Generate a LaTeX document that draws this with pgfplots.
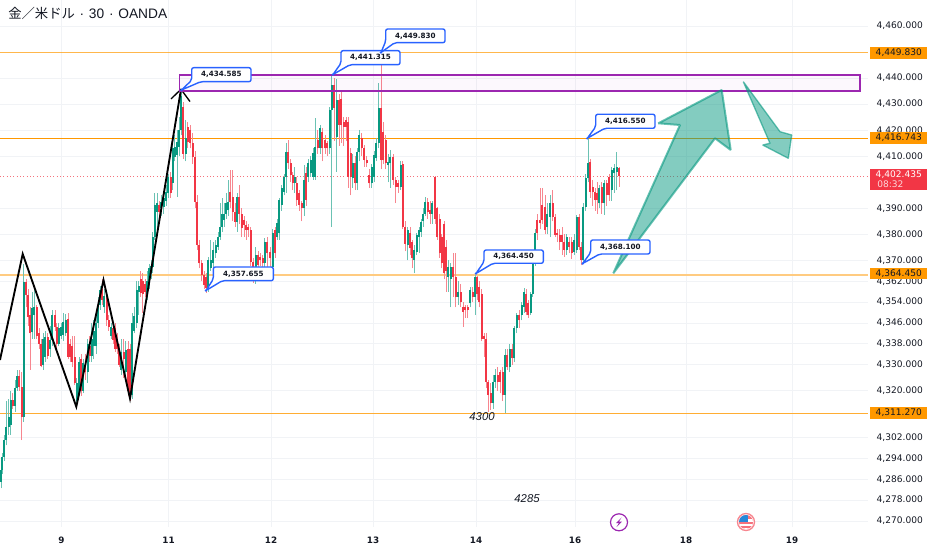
\documentclass[border=0pt]{standalone}
\usepackage{fontspec}
\setmainfont{DejaVu Sans}
\newfontfamily\cjk{Noto Sans CJK JP}
\newfontfamily\lib{Liberation Sans}
\usepackage{pgfplots}
\usepackage{pgfplotstable}
\pgfplotsset{compat=1.18}
\definecolor{up}{HTML}{089981}
\definecolor{dn}{HTML}{F23645}
\definecolor{org}{HTML}{FF9800}
\definecolor{pur}{HTML}{9C27B0}
\definecolor{blu}{HTML}{2962FF}
\definecolor{txt}{HTML}{131722}
\definecolor{gridc}{HTML}{F1F3F6}
\pgfplotstableread{
x o h l c
1.0 4285 4291 4282.5 4289.5
2.3 4289.5 4296 4288 4294.5
4.3 4294.5 4303 4293 4301
6.3 4301 4316 4299 4306
8.6 4306 4317 4303 4310
10.6 4307 4320 4303 4316.5
12.7 4316.5 4319 4313 4314
15 4314 4324 4312 4321
17 4321 4328 4320 4325.5
19.3 4325.5 4328 4320 4321.5
21.6 4321.5 4327 4301 4310
23.6 4310 4368.5 4308 4361.8
26 4361.8 4363 4352 4356.7
28 4356.7 4359 4345 4348.4
30 4349 4352 4328 4342
32.3 4342.5 4358 4340 4351.6
34.3 4349 4359 4340 4352
36.7 4352 4353 4340 4341
39 4342 4344 4336 4338
41 4338 4340 4329 4329.5
43.3 4330 4342 4328 4340
45.3 4333 4343 4331 4340.5
47.7 4340.5 4342 4332 4333.5
50 4336 4345 4333 4339.5
52.3 4339.5 4351 4337 4349
55 4349 4351 4343 4344.4
56.7 4344.4 4346 4336.5 4338
58.7 4338 4346 4337 4344
61.3 4341 4346 4340 4344.5
63.3 4341.5 4350 4339 4346.5
65.7 4342 4349.5 4341 4347
68 4347.5 4350 4332 4333
70.3 4338 4340 4331 4333
72.3 4337 4341 4329 4331
74.7 4333 4341 4322 4323
76.7 4316 4325 4314.5 4323
79 4319 4333 4318 4331
81 4332 4334 4318 4320
83.3 4320 4332 4319 4330.5
85.3 4330 4334 4324 4327
87.7 4327 4340 4323 4338
89.7 4337 4341 4331 4333.5
91.7 4333.5 4346 4331 4340
93.7 4337 4347 4332 4343
96 4337 4350 4334 4346
98.3 4346 4356 4344 4353
100 4353 4360 4351 4358.7
102.3 4359 4363 4353 4355
104.3 4352 4359 4350 4356.5
106.7 4356 4358 4345 4347
108.7 4347 4349 4343 4344.5
111 4341 4346 4340 4344.5
113 4344 4346 4338 4339.5
115 4344 4346 4335 4336
117.3 4340 4342 4334 4336
119.3 4335.5 4338 4329 4330
121.3 4328 4340 4326 4335
123.7 4335 4340 4325 4332
125.7 4327 4339 4326 4335.5
128 4336 4339 4318 4320
130 4336 4338 4316 4318
132.3 4318.5 4350 4317 4346
134.3 4343 4352 4342 4348.5
136.7 4346 4362 4344 4358.7
138.7 4358 4362 4349 4360
140.7 4363 4366 4356 4357.5
142.7 4362 4365 4350 4357
145 4361 4363 4356 4358
147 4357 4366 4355 4362
149.3 4361 4368.5 4359 4367
151.3 4365 4370 4363 4368
152.7 4367.6 4381 4365 4379
154.7 4379 4395.7 4378 4391.3
157 4388.7 4396 4382 4391.9
159.3 4391.3 4393 4386 4388.7
161.3 4390 4395 4387 4392.5
163.7 4390.6 4396 4388 4393.8
166 4393 4399 4391 4396.4
168.3 4395.7 4403 4394 4402
170.7 4402 4404 4394 4395.7
172.7 4399.6 4415 4397 4413
174.7 4409.8 4418 4408 4413.6
177.3 4410.5 4420 4394.5 4415.6
179.3 4413.6 4425 4410 4420
181.3 4420 4434.6 4418 4433
183.3 4429 4431 4409 4411
185.7 4411 4424 4408 4416.9
187.7 4421.3 4423 4413 4415.6
190 4420 4422 4413 4415
192.7 4415 4419 4407 4409.8
195 4409.8 4412 4390 4392.5
197.3 4392.5 4395 4374 4375.9
199.3 4375.9 4378 4367 4368.9
201.7 4368.9 4370 4362 4364.4
204 4364.4 4366 4359 4360.5
206 4363.7 4365 4357.65 4359.3
208.3 4359.3 4371.5 4358 4370.1
210.7 4367 4378 4366 4370
213.3 4368.9 4377 4367 4374
215.7 4372.7 4378 4371 4375.9
218 4375.3 4381 4374 4379.1
220.3 4379.1 4392 4378 4383
222 4383 4394 4381 4388
224 4385.5 4392 4383 4388
226 4388 4396 4386 4391.9
228.3 4389.3 4400.9 4387 4392.5
230.3 4396.4 4404.7 4390 4392.5
232.7 4394.5 4404.7 4385 4388.7
235 4388.7 4392 4383 4384.9
237.3 4384.9 4396 4381 4394.5
239.3 4394.5 4399 4384 4388
241.7 4388 4390 4379 4382.3
244 4385.5 4387 4379 4383.6
246.3 4383.6 4385 4378 4381.7
248.3 4383 4384 4379 4381.7
250.7 4381.7 4383 4368 4369.5
253.3 4369.5 4371 4361.2 4365
255.7 4363.7 4375 4361 4372
258 4372 4373.5 4366 4368.2
260 4371.4 4373 4368 4370.1
262.7 4370.8 4372 4367 4368.9
264.7 4368.9 4378.5 4367 4377.2
267.3 4377.2 4379 4367 4372.7
270 4373.3 4375 4366 4370.8
272.7 4367.6 4382 4364.5 4380.4
275 4381.7 4383 4371 4372.7
277.3 4379 4386 4378 4384.2
279.3 4380.4 4394 4378 4393.2
281.7 4391.3 4399 4389 4397.7
284 4396.4 4403 4395 4402.1
286 4402.1 4414.9 4396 4411.7
288.3 4411.7 4416.2 4405 4407.3
290.7 4407.3 4409 4400 4402.8
292.7 4402.8 4404 4397 4399.6
294.7 4399.6 4406 4396 4402.1
296.7 4399.6 4402 4391 4393.2
299.3 4395.7 4397 4389 4391.3
301.7 4391.9 4393 4385 4390
304 4390 4406.6 4387 4400.9
306.3 4403.4 4406 4391 4393.2
308.3 4402.1 4409 4400 4407.3
310.7 4403.4 4410 4402 4408.5
313 4402.1 4413 4401 4411.1
315.3 4402.1 4424.5 4401 4413.7
317.7 4416.2 4420 4411 4413
320 4413 4422 4411 4420.7
322.3 4419.4 4421 4408 4413
325 4416.2 4418 4411 4413
327.3 4414.9 4416 4410 4413
329.7 4413 4429 4411 4427.7
331.7 4427.7 4441.315 4383 4437.3
334 4437.3 4440 4416 4428.4
336.7 4417.5 4439.5 4404 4431.6
339 4431.6 4434 4414 4422
341.3 4432 4435 4415 4422
343.7 4423.3 4425 4414 4421.3
346 4423.9 4425 4416 4421.3
348.3 4423.3 4425 4398 4402.1
350.7 4411.1 4413 4395 4402.1
352.7 4401.5 4411 4398 4407.3
355 4407.3 4410 4397 4399.6
357 4399.6 4413 4397 4411.7
359.3 4411.7 4420 4408 4418.1
361.7 4416.9 4419 4410 4413
364 4413 4414.5 4406 4408.5
366.7 4408.5 4410 4406 4407.3
369.3 4402.8 4405 4398 4399.6
371.7 4399.6 4407 4398 4406
374 4402.1 4412 4400 4410.5
376.3 4409.2 4417 4408 4414.9
378.7 4414.9 4438 4413 4428.4
381 4428.4 4449.83 4405 4408.5
383.3 4419.4 4423 4407 4408.5
385.7 4416.2 4418 4405 4407.3
388 4406.6 4411 4400 4407.9
390.3 4407.3 4412.5 4398 4409.8
393.3 4409.8 4411 4399 4400.9
395.7 4400.9 4402 4392 4398.3
398.3 4399.6 4401 4396 4398.3
400.7 4398.3 4408 4397 4406.6
402.7 4407 4408 4382 4383
405 4383 4385 4373.5 4376.5
407.7 4375.9 4383 4370 4381.7
410 4380.4 4383 4372 4374.6
412.3 4377 4378 4367 4370.8
414.3 4370.1 4376 4365 4374
416.7 4373.3 4380.5 4372 4379.7
419 4379 4383 4373 4381.7
421.3 4381 4386 4379 4384.9
423.3 4385 4390 4383 4388
425.3 4388 4394.5 4387 4392.5
427.7 4392.5 4394 4386 4388.7
430 4389.3 4393 4384 4388
432.3 4388 4393 4384 4392
435 4402 4402.5 4384 4386
437.3 4390 4390.5 4378 4379
439.7 4386 4388 4371 4372.7
441.7 4379 4380 4367 4368.9
444 4384 4385 4363 4365
446 4375 4378 4358 4366
448.3 4363.8 4370 4358 4367.6
450.7 4363 4369 4352 4367.6
453.3 4367.6 4373 4356 4363.8
455.7 4363.8 4373 4352 4356
458.3 4356 4362 4353 4358
460.7 4358 4361 4352 4354
463 4352 4354 4344.5 4350.3
465.3 4352 4353 4348 4351
467.7 4352 4353 4348 4351
470 4353.5 4360 4352 4358.6
472.7 4358 4360 4354 4356
475 4356 4364.5 4349 4363.8
477.3 4363.8 4364 4355 4357
479.3 4360 4362 4352 4354
481.7 4357 4359 4339 4340
484 4341 4342 4333 4340
486 4340 4342 4321 4323.4
488.3 4323.4 4324 4312 4318.3
490.7 4319 4323 4312.5 4315.1
493.3 4315.1 4326 4313 4323.4
495.3 4323.4 4328.5 4321 4326
497.7 4326 4329 4320 4323.4
500 4327 4328 4319 4323.4
502.7 4327 4329 4316 4318.3
505 4318.3 4336 4311.3 4333.6
507.3 4333.6 4336 4328 4329
509.7 4329 4338 4327 4336.2
512 4336.2 4338 4330 4332.4
514.3 4332.4 4345 4331 4343.9
516.7 4343.9 4350 4342 4349
519.3 4349 4351 4344 4347
521.7 4349 4354 4347 4352.9
524 4352.2 4359.5 4350 4358
526 4357.3 4359 4349 4350.3
528.3 4353.5 4355 4348 4349
530.7 4349.7 4358 4349 4357.3
532.7 4357.3 4370 4356 4368.9
535 4368.9 4382 4368 4380.4
537.3 4385.5 4388 4378 4380.4
540 4385.5 4398 4382 4384.2
542.3 4391.3 4397.7 4384 4385.5
545 4390.6 4395 4380 4381.7
547.3 4383 4392 4380 4388
550 4386.8 4395 4379 4391.9
552.7 4391.9 4397 4385 4386.8
555 4386.8 4388 4379 4379.7
557.3 4380.4 4382 4377 4379.7
559.7 4379.7 4382 4374 4377
562 4379.7 4383 4372 4377.2
564.3 4377 4380 4371.5 4374
566.7 4374 4380 4372 4379
569 4377 4379 4373 4375.2
571.7 4377 4379 4370.5 4372.7
574 4373.3 4380 4372 4377.8
576.7 4374 4387.5 4373 4386.8
579 4386.8 4388 4374 4375.2
581.3 4375.2 4377 4368.1 4370
583.3 4370 4392 4369 4390.6
585.7 4390.6 4403 4389 4401.5
588 4401.5 4416.55 4400 4407.3
590.3 4407.9 4409 4394 4396.4
592.7 4398.3 4401 4391 4396.4
595 4396.4 4398 4389 4393.2
597.3 4395.7 4400 4388 4393.2
599.3 4391.9 4399 4390 4397.7
601.7 4398.3 4400 4388 4391.9
604 4391.9 4401 4387.5 4399.6
606.7 4399.6 4401 4391 4395
609.3 4402 4403 4393 4395
611.7 4397 4406 4393 4404.7
614.3 4403.4 4407 4396 4405.3
616.7 4404 4411.7 4397 4406
619 4405.3 4406 4398.3 4402.4
}\cdata
\pgfplotsset{
 wick/.style={draw=none,mark=none,forget plot,error bars/.cd,y dir=plus,y explicit,error mark=none,
   error bar style={line width=0.6pt,color=#1}},
 body/.style={draw=none,mark=none,forget plot,error bars/.cd,y dir=plus,y explicit,error mark=none,
   error bar style={line width=1.6pt,color=#1}},
}
\newcommand\callout[7]{%
 \path[fill=blu] (#5,#6) circle (1.3);
 \draw[blu,line width=1.05pt,fill=white,rounded corners=1.5pt,line join=round]
   (#1,#3) -- (#2,#3) -- (#2,#4) -- ({#1+9},#4) -- (#5,#6) -- (#1,{#4-1.5}) -- cycle;
 \node[font=\fontsize{5.4}{6}\selectfont\bfseries,text=txt,inner sep=0pt] at ({(#1+#2)/2},{(#3+#4)/2}) {#7};}
\newcommand\badge[3]{%
 \fill[#3] (870.3,{#1-5.7}) rectangle (927.3,{#1+5.7});
 \node[font=\fontsize{6.8}{8}\selectfont,text=txt,inner sep=0pt] at (898.8,#1) {#2};}
\begin{document}
\begin{tikzpicture}
\useasboundingbox (0,0) rectangle (699pt,412.5pt);
\begin{axis}[
 at={(0pt,17.25pt)},anchor=south west,
 scale only axis,width=651pt,height=395.25pt,
 xmin=0,xmax=868,ymin=4267.68,ymax=4469.98,
 axis line style={draw=none},
 tick style={draw=none},
 xtick={61.5,168.5,271,373,476,575,686,792},
 xticklabels={9,11,12,13,14,16,18,19},
 ytick={4460,4440,4430,4420,4410,4390,4380,4370,4362,4354,4346,4338,4330,4320,4302,4294,4286,4278,4270},
 yticklabel pos=right,
 grid=major,grid style={gridc,line width=0.5pt},
 tick label style={font=\fontsize{6.8}{8}\selectfont,text=txt},
 yticklabel style={anchor=west,xshift=3pt,/pgf/number format/.cd,fixed,fixed zerofill,precision=3,1000 sep={,},assume math mode=true},
 xticklabel style={yshift=-4pt,font=\fontsize{6.6}{8}\selectfont\bfseries},
]
% price lines
\addplot[org,line width=0.6pt,opacity=.7,forget plot] coordinates {(0,4449.83) (868,4449.83)};
\addplot[org,line width=0.75pt,forget plot] coordinates {(0,4416.743) (868,4416.743)};
\addplot[org!50!white,line width=1.9pt,forget plot] coordinates {(0,4364.45) (868,4364.45)};
\addplot[org!80!white,line width=0.6pt,forget plot] coordinates {(0,4311.27) (868,4311.27)};
\addplot[dn!70!white,dotted,line width=0.5pt,forget plot] coordinates {(0,4402.435) (868,4402.435)};
% candles
\addplot[wick=up!60!white] table[x=x,y expr={\thisrow{c}>=\thisrow{o}?\thisrow{l}:nan},y error plus expr={\thisrow{h}-\thisrow{l}}] {\cdata};
\addplot[wick=dn!60!white] table[x=x,y expr={\thisrow{c}<\thisrow{o}?\thisrow{l}:nan},y error plus expr={\thisrow{h}-\thisrow{l}}] {\cdata};
\addplot[body=up] table[x=x,y expr={\thisrow{c}>=\thisrow{o}?\thisrow{o}:nan},y error plus expr={\thisrow{c}-\thisrow{o}}] {\cdata};
\addplot[body=dn] table[x=x,y expr={\thisrow{c}<\thisrow{o}?\thisrow{c}:nan},y error plus expr={\thisrow{o}-\thisrow{c}}] {\cdata};
% zigzag
\addplot[black,line width=1.4pt,forget plot,line join=miter] coordinates {(0,4331.8) (22.7,4372.5) (76.3,4313.85) (103.5,4362.5) (130,4317) (181,4435.7)};
\addplot[black,line width=1pt,forget plot] coordinates {(171,4432) (181,4435.7) (190,4431)};
\end{axis}
\begin{scope}[x=0.75pt,y=-0.75pt,yshift=412.5pt]
 % zone
 \draw[pur,line width=1pt,fill=pur,fill opacity=0.03] (179.3,75) rectangle (860,91);
 % arrows
 \draw[up,line width=1.5pt,draw opacity=.6,fill=up,fill opacity=.5,line join=bevel]
   (613.3,273.3) -- (680,125) -- (658.3,123.3) -- (721.7,90) -- (730.7,150) -- (715,138.3) -- cycle;
 \draw[up,line width=1pt,draw opacity=.6,fill=up,fill opacity=.5,line join=bevel]
   (743.3,81.7) -- (780,131.7) -- (791.7,135) -- (788.3,158.3) -- (762.7,145) -- (770,143.3) -- cycle;
 % callouts
 \callout{191.7}{251}{67.7}{81.7}{181.5}{90}{4,434.585}
 \callout{341}{400}{50.7}{64.7}{333}{74.5}{4,441.315}
 \callout{385.7}{445}{29}{42.7}{381}{52.5}{4,449.830}
 \callout{213.3}{273.3}{267}{280.7}{206}{290.5}{4,357.655}
 \callout{484}{543.3}{250}{263.3}{476}{273.5}{4,364.450}
 \callout{595.7}{655}{114.3}{128.3}{587.3}{138.3}{4,416.550}
 \callout{590.7}{650}{240}{254}{582.7}{263.5}{4,368.100}
 % badges
 \badge{53}{4,449.830}{org}
 \badge{138}{4,416.743}{org}
 \badge{273.5}{4,364.450}{org}
 \badge{413}{4,311.270}{org}
 \fill[dn] (870.3,169.5) rectangle (927.3,190.5);
 \node[font=\fontsize{6.8}{8}\selectfont,text=white,inner sep=0pt] at (898.8,175) {4,402.435};
 \node[font=\fontsize{6.8}{8}\selectfont,text=white!80!dn,inner sep=0pt,anchor=west] at (877,184.5) {08:32};
 % title
 \node[anchor=west,inner sep=0pt,text=txt,font=\fontsize{10}{12}\selectfont] at (8,13) {{\cjk 金／米ドル}{\lib\fontsize{10.3}{12}\selectfont\ \kern0.7pt·\ \kern0.7pt30\ \kern0.7pt·\ \kern0.7pt OANDA}};
 % texts
 \node[inner sep=0pt,text=txt,font=\fontsize{8.5}{10}\selectfont\lib\itshape] at (482,416.5) {4300};
 \node[inner sep=0pt,text=txt,font=\fontsize{8.5}{10}\selectfont\lib\itshape] at (527,498.5) {4285};
 % events
 \draw[pur,line width=0.9pt,fill=white] (619,522.3) circle (8.5);
 \fill[pur] (621.5,517.5) -- (616,523) -- (619,523) -- (616.5,527) -- (622,521.5) -- (619,521.5) -- cycle;
 \draw[dn!60!white,line width=1pt,fill=white] (746,522) circle (8.5);
 \begin{scope}
  \clip (746,522) circle (7);
  \fill[dn!70!white] (738,515) rectangle (754,529);
  \fill[white] (738,519.5) rectangle (754,521.5);
  \fill[white] (738,523.5) rectangle (754,525.5);
  \fill[white] (738,527.5) rectangle (754,529);
  \fill[blue!45!cyan!70!gray] (738,515) rectangle (748,521.5);
 \end{scope}
\end{scope}
\end{tikzpicture}
\end{document}
